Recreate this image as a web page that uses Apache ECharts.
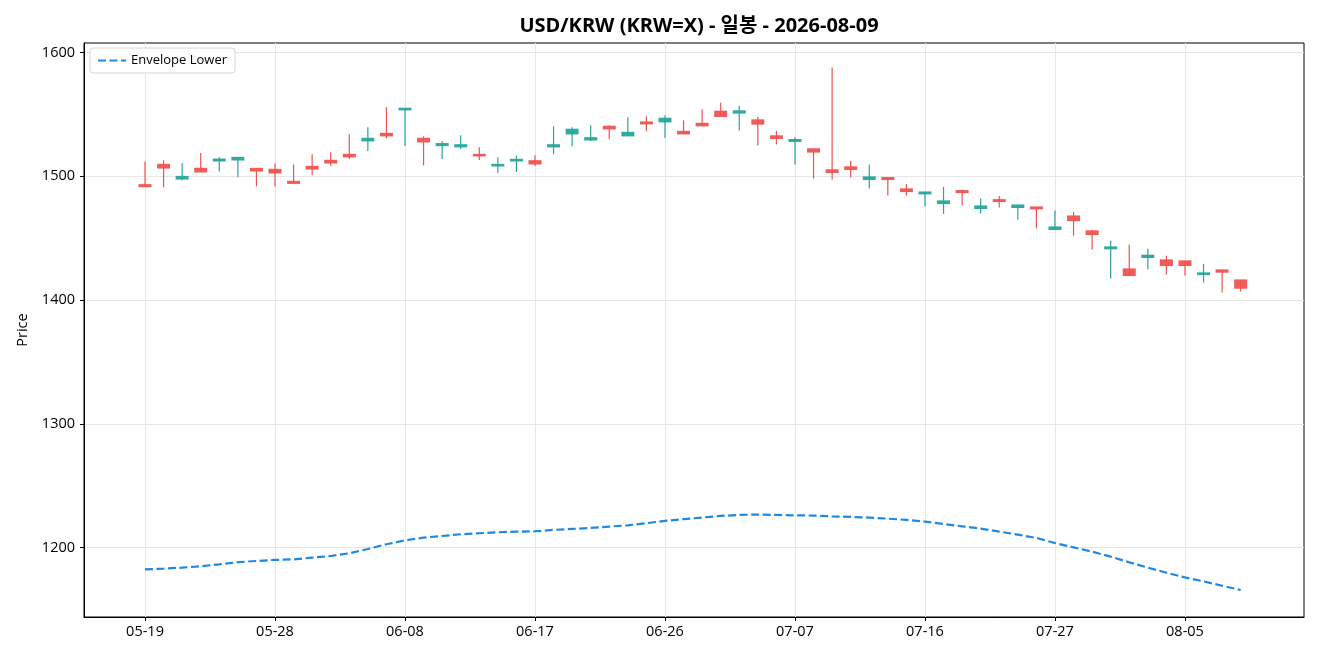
<!DOCTYPE html>
<html>
<head>
<meta charset="utf-8">
<script src="https://cdn.jsdelivr.net/npm/echarts@6/dist/echarts.min.js"></script>
<style>
  html, body { margin: 0; padding: 0; background: #fff; }
  #chart { width: 1320px; height: 660px; }
</style>
</head>
<body>
<div id="chart"></div>
<script>
// 영업일 날짜 (x축)
var dates = [
  '05-19','05-20','05-21','05-22','05-25','05-26','05-27','05-28','05-29',
  '06-01','06-02','06-03','06-04','06-05','06-08','06-09','06-10','06-11','06-12',
  '06-15','06-16','06-17','06-18','06-19','06-22','06-23','06-24','06-25','06-26',
  '06-29','06-30',
  '07-01','07-02','07-03','07-06','07-07','07-08','07-09','07-10','07-13','07-14',
  '07-15','07-16','07-17','07-20','07-21','07-22','07-23','07-24','07-27','07-28',
  '07-29','07-30','07-31',
  '08-03','08-04','08-05','08-06','08-07','08-10'
];

// 시가 / 종가 / 저가 / 고가
var opens = [
  1491.6, 1506.7, 1500.0, 1503.5, 1514.0, 1515.4, 1504.3, 1502.7, 1494.3, 1505.9,
  1510.8, 1515.7, 1530.8, 1532.7, 1555.1, 1527.8, 1526.5, 1525.6, 1516.5, 1509.7,
  1513.8, 1510.0, 1525.6, 1538.1, 1531.3, 1538.3, 1535.6, 1542.4, 1547.0, 1534.3,
  1540.8, 1548.4, 1553.0, 1542.2, 1530.6, 1529.8, 1519.6, 1503.1, 1505.5, 1499.6,
  1497.4, 1487.7, 1487.4, 1480.2, 1486.9, 1476.1, 1479.6, 1476.9, 1473.7, 1459.1,
  1464.2, 1453.0, 1443.0, 1419.8, 1436.3, 1427.9, 1427.9, 1422.0, 1422.5, 1409.6
];
var closes = [
  1493.3, 1509.7, 1497.8, 1506.5, 1512.4, 1513.2, 1506.5, 1505.7, 1496.0, 1508.1,
  1513.0, 1517.8, 1528.6, 1534.8, 1553.7, 1530.8, 1524.8, 1523.8, 1517.8, 1508.4,
  1512.4, 1512.7, 1523.8, 1534.3, 1529.4, 1540.5, 1532.7, 1544.0, 1544.0, 1536.4,
  1542.9, 1552.7, 1551.1, 1545.7, 1532.8, 1528.2, 1522.3, 1505.3, 1507.7, 1497.4,
  1499.1, 1489.9, 1485.8, 1478.0, 1488.5, 1474.0, 1481.2, 1474.8, 1475.3, 1457.0,
  1468.0, 1456.0, 1441.4, 1425.2, 1434.4, 1432.5, 1431.7, 1420.6, 1424.4, 1416.3
];
var lows = [
  1491.6, 1491.1, 1496.8, 1503.5, 1504.0, 1499.2, 1491.9, 1491.9, 1494.3, 1500.8,
  1508.4, 1514.0, 1520.5, 1530.8, 1524.6, 1508.9, 1514.0, 1522.1, 1513.2, 1502.7,
  1503.5, 1508.4, 1517.8, 1524.3, 1528.6, 1530.2, 1532.7, 1536.7, 1531.0, 1534.3,
  1540.8, 1548.4, 1537.1, 1525.0, 1525.8, 1509.6, 1498.2, 1497.4, 1499.1, 1490.2,
  1484.5, 1484.5, 1475.6, 1469.6, 1476.4, 1469.9, 1474.8, 1465.0, 1457.8, 1457.0,
  1452.1, 1440.9, 1417.4, 1419.8, 1424.7, 1420.6, 1419.8, 1414.2, 1406.1, 1406.9
];
var highs = [
  1512.1, 1513.0, 1510.5, 1518.9, 1515.4, 1515.4, 1506.5, 1510.5, 1509.7, 1517.8,
  1519.4, 1534.0, 1539.7, 1555.9, 1555.1, 1532.4, 1528.3, 1533.2, 1523.5, 1515.4,
  1517.0, 1517.0, 1540.5, 1539.7, 1541.3, 1541.3, 1547.8, 1548.6, 1549.4, 1545.3,
  1554.3, 1559.5, 1557.1, 1548.2, 1536.8, 1531.7, 1522.3, 1587.9, 1512.6, 1509.3,
  1499.1, 1493.9, 1487.4, 1491.5, 1489.1, 1482.1, 1484.2, 1476.9, 1475.3, 1472.3,
  1471.3, 1456.8, 1447.9, 1444.7, 1441.4, 1435.8, 1431.7, 1429.3, 1424.4, 1416.3
];

// 엔벨로프 하단
var envLower = [
  1182.3, 1182.9, 1183.7, 1184.8, 1186.4, 1188.1, 1189.1, 1189.9, 1190.4, 1191.8,
  1193.1, 1195.3, 1198.8, 1202.6, 1205.8, 1208.0, 1209.3, 1210.7, 1211.5, 1212.3,
  1212.8, 1213.1, 1214.2, 1215.0, 1215.8, 1216.9, 1217.9, 1219.6, 1221.5, 1222.9,
  1224.2, 1225.5, 1226.3, 1226.6, 1226.3, 1226.0, 1225.8, 1225.2, 1224.7, 1224.2,
  1223.3, 1222.3, 1220.9, 1219.0, 1217.1, 1215.2, 1212.8, 1210.4, 1207.7, 1203.6,
  1200.1, 1196.6, 1192.6, 1188.0, 1183.7, 1179.6, 1175.8, 1172.6, 1169.1, 1165.6
];

var xTicks = [0, 7, 14, 21, 28, 35, 42, 49, 56];
var yTicks = [1200, 1300, 1400, 1500, 1600];

var UP = '#ef5350', DOWN = '#26a69a';
var FONT = "'Open Sans', 'Noto Sans CJK KR', sans-serif";

var candleData = [];
for (var i = 0; i < dates.length; i++) {
  candleData.push([i, opens[i], closes[i], lows[i], highs[i]]);
}
var envData = [];
for (var j = 0; j < envLower.length; j++) {
  envData.push([j, envLower[j]]);
}

function renderCandle(params, api) {
  var x = api.value(0);
  var o = api.value(1), c = api.value(2), l = api.value(3), h = api.value(4);
  var color = c >= o ? UP : DOWN;
  var pHigh = api.coord([x, h]);
  var pLow  = api.coord([x, l]);
  var pTop  = api.coord([x, Math.max(o, c)]);
  var pBot  = api.coord([x, Math.min(o, c)]);
  var w = api.size([1, 0])[0] * 0.7;
  return {
    type: 'group',
    children: [
      {
        type: 'line',
        shape: { x1: pHigh[0], y1: pHigh[1], x2: pLow[0], y2: pLow[1] },
        style: { stroke: color, lineWidth: 1.2 }
      },
      {
        type: 'rect',
        shape: { x: pTop[0] - w / 2, y: pTop[1] - 0.5, width: w, height: Math.max(pBot[1] - pTop[1], 1) + 1 },
        style: { fill: color, opacity: 0.95 }
      }
    ]
  };
}

var chart = echarts.init(document.getElementById('chart'), null, { renderer: 'canvas' });
chart.setOption({
  animation: false,
  backgroundColor: '#fff',
  textStyle: { fontFamily: FONT },
  title: {
    text: 'USD/KRW (KRW=X) - 일봉 - 2026-08-09',
    left: 694,
    textAlign: 'center',
    top: 11,
    textStyle: { fontFamily: FONT, fontSize: 20, fontWeight: 'bold', color: '#000' }
  },
  legend: {
    left: 90,
    top: 48,
    data: ['Envelope Lower'],
    backgroundColor: '#fff',
    borderColor: '#d5d5d5',
    borderWidth: 1,
    borderRadius: 3,
    padding: [6, 8, 6, 7],
    itemWidth: 28,
    itemHeight: 10,
    itemStyle: { opacity: 0, borderWidth: 0 },
    textStyle: { fontFamily: FONT, fontSize: 13, color: '#000' }
  },
  grid: {
    left: 84, right: 16, top: 43, bottom: 43,
    show: true, borderColor: '#000', borderWidth: 1, backgroundColor: 'transparent'
  },
  xAxis: {
    type: 'value',
    min: -3.285,
    max: 62.41,
    axisLine: { show: true, onZero: false, lineStyle: { color: '#000', width: 1 } },
    axisTick: { show: true, length: 4, lineStyle: { color: '#000', width: 1 }, customValues: xTicks },
    axisLabel: {
      customValues: xTicks,
      margin: 8,
      fontSize: 14.5,
      color: '#000',
      fontFamily: FONT,
      formatter: function (v) { return dates[Math.round(v)] || ''; }
    },
    splitLine: { show: true, lineStyle: { color: '#e6e6e6', width: 1 } }
  },
  yAxis: {
    type: 'value',
    min: 1143.8,
    max: 1607.8,
    name: 'Price',
    nameLocation: 'middle',
    nameGap: 54,
    nameTextStyle: { fontFamily: FONT, fontSize: 14.5, color: '#000' },
    axisLine: { show: true, onZero: false, lineStyle: { color: '#000', width: 1 } },
    axisTick: { show: true, length: 4, lineStyle: { color: '#000', width: 1 }, customValues: yTicks },
    axisLabel: {
      customValues: yTicks,
      margin: 9,
      fontSize: 14.5,
      color: '#000',
      fontFamily: FONT,
      formatter: function (v) { return String(v); }
    },
    splitLine: { show: true, lineStyle: { color: '#e6e6e6', width: 1 } }
  },
  series: [
    {
      name: 'Candles',
      type: 'custom',
      renderItem: renderCandle,
      encode: { x: 0, y: [1, 2, 3, 4] },
      data: candleData,
      z: 3
    },
    {
      name: 'Envelope Lower',
      type: 'line',
      data: envData,
      symbol: 'none',
      showSymbol: false,
      lineStyle: { color: '#1e88e5', width: 2.2, type: [8, 3.5] },
      itemStyle: { color: '#1e88e5' },
      z: 4
    }
  ]
});
</script>
</body>
</html>
